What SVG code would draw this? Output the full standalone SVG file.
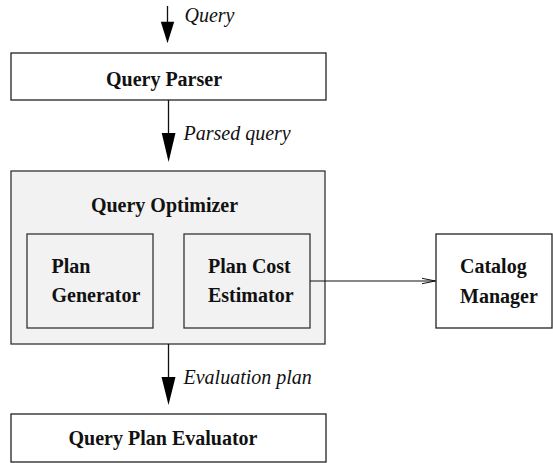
<svg xmlns="http://www.w3.org/2000/svg" width="553" height="463" viewBox="0 0 553 463">
<style>
.box{fill:#fff;stroke:#222;stroke-width:1.3}
.gbox{fill:#f2f2f2;stroke:#333;stroke-width:1.3}
.t{font-family:'Liberation Serif','Times New Roman',Times,'DejaVu Serif',serif;font-weight:bold;font-size:20px;fill:#111}
.tm{text-anchor:middle}
.lbl{font-family:'Liberation Serif','Times New Roman',Times,'DejaVu Serif',serif;font-style:italic;font-size:20px;fill:#111}
.ln{stroke:#111;stroke-width:1.3;fill:none}
.head{fill:#000}
</style>
<g id="parser">
<rect class="box" x="11" y="53" width="315" height="47"/>
<text class="t tm" x="164" y="86">Query Parser</text>
</g>
<g id="optimizer">
<rect class="gbox" x="11" y="171" width="314" height="173"/>
<text class="t tm" x="164.5" y="212">Query Optimizer</text>
</g>
<g id="plangen">
<rect class="gbox" x="27" y="234" width="126" height="94"/>
<text class="t" x="51.5" y="273">Plan</text>
<text class="t" x="51.5" y="302">Generator</text>
</g>
<g id="costest">
<rect class="gbox" x="184" y="234" width="126" height="94"/>
<text class="t" x="208" y="273">Plan Cost</text>
<text class="t" x="208" y="302">Estimator</text>
</g>
<g id="catalog">
<rect class="box" x="436" y="234" width="116" height="94"/>
<text class="t" x="460" y="273">Catalog</text>
<text class="t" x="460" y="303">Manager</text>
</g>
<g id="evaluator">
<rect class="box" x="11" y="414" width="315" height="48"/>
<text class="t tm" x="163" y="445">Query Plan Evaluator</text>
</g>
<g id="connectors">
<line class="ln" x1="167.5" y1="6" x2="167.5" y2="24"/>
<polygon class="head" points="160.8,21.7 174.2,21.7 167.5,43.3"/>
<text class="lbl" x="184.5" y="21.5">Query</text>
<line class="ln" x1="168.5" y1="100" x2="168.5" y2="135"/>
<polygon class="head" points="161.7,133 175.5,133 168.6,162"/>
<text class="lbl" x="183.5" y="140">Parsed query</text>
<line class="ln" x1="168.5" y1="344" x2="168.5" y2="379"/>
<polygon class="head" points="161.5,377 175.5,377 168.5,405"/>
<text class="lbl" x="183.5" y="383.5">Evaluation plan</text>
<line class="ln" x1="310" y1="281" x2="435.5" y2="281" style="stroke-width:1"/>
<polyline class="ln" points="422,278.3 435.5,281 422,283.7" style="stroke-width:1"/>
</g>
</svg>
